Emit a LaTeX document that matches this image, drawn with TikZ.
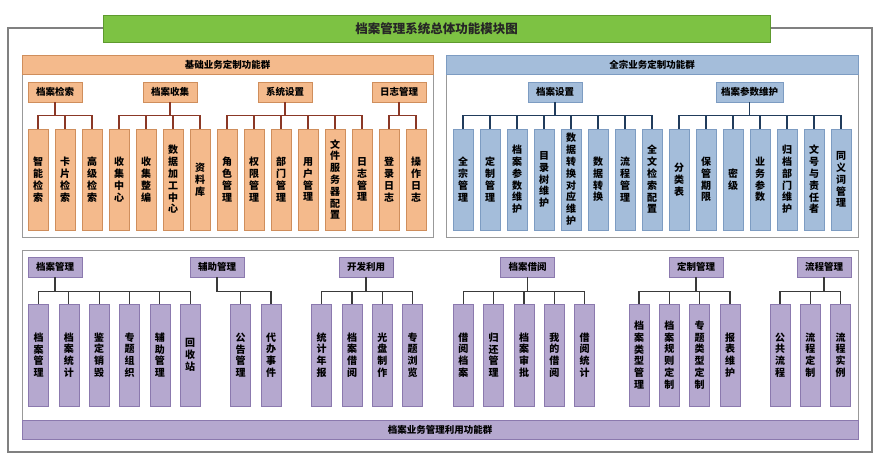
\documentclass[tikz,border=0pt]{standalone}
\usepackage{fontspec}
\newfontfamily\cjk{Noto Sans CJK SC}
\definecolor{bannerfill}{HTML}{7DC243}
\definecolor{bannerborder}{HTML}{5E9A2E}
\definecolor{orangefill}{HTML}{F4BA8C}
\definecolor{orangeborder}{HTML}{CF8E5C}
\definecolor{orangelink}{HTML}{8B3826}
\definecolor{bluefill}{HTML}{A4BDDA}
\definecolor{blueborder}{HTML}{7D9CC2}
\definecolor{bluelink}{HTML}{213C5C}
\definecolor{purplefill}{HTML}{B5A8CF}
\definecolor{purpleborder}{HTML}{8B79AE}
\definecolor{purplelink}{HTML}{3A3A3A}

\begin{document}
\begin{tikzpicture}[x=1pt,y=-1pt]
        \tikzset{box/.style={draw=#1border,fill=#1fill,line width=0.6pt,inner sep=0pt,align=center,
                font=\cjk\bfseries\fontsize{9.5}{11.5}\selectfont},
            cat/.style={box=#1,minimum width=54pt,minimum height=20pt},
            leaf/.style={box=#1,minimum width=20pt,minimum height=101pt,
                font=\cjk\bfseries\fontsize{10}{11.8}\selectfont},
            band/.style={box=#1,minimum height=19pt},
            link/.style={draw=#1link,line width=1.2pt},
            panel/.style={draw=black!40,line width=1pt},
            banner/.style={draw=bannerborder,fill=bannerfill,minimum width=667pt,minimum height=27pt,
                font=\cjk\bfseries\fontsize{12.5}{14}\selectfont,text=black!85}}
        \useasboundingbox (0,0) rectangle (888,463);
        \fill[white] (0,0) rectangle (888,463);
        \draw[draw=black!50,line width=1.2pt] (8,28) rectangle (872,452);
        \node[banner] (title) at (436.5,28.5) {档案管理系统总体功能模块图};

        \draw[panel] (22,55) rectangle (433,237);
        \node[band=orange,minimum width=411pt] (basehead) at (227.5,64.5) {基础业务定制功能群};
        \node[cat=orange] (ocat1) at (55,92) {档案检索};
        \node[cat=orange] (ocat2) at (170,92) {档案收集};
        \node[cat=orange] (ocat3) at (285,92) {系统设置};
        \node[cat=orange] (ocat4) at (399,92) {日志管理};
        \foreach \t [count=\i] in {智\\能\\检\\索, 卡\\片\\检\\索, 高\\级\\检\\索,
                收\\集\\中\\心, 收\\集\\整\\编, 数\\据\\加\\工\\中\\心, 资\\料\\库,
                角\\色\\管\\理, 权\\限\\管\\理, 部\\门\\管\\理, 用\\户\\管\\理,
                文\\件\\服\\务\\器\\配\\置, 日\\志\\管\\理, 登\\录\\日\\志, 操\\作\\日\\志}
            \node[leaf=orange] (oleaf\i) at (11+27*\i,179.5) {\t};
        \foreach \p/\a/\b in {1/1/3, 2/4/7, 3/8/13, 4/14/15}
            \foreach \i in {\a,...,\b}
                \draw[link=orange] (ocat\p.south) -- ++(0,13) -| (oleaf\i.north);

        \draw[panel] (446,55) rectangle (858,237);
        \node[band=blue,minimum width=412pt] (wholehead) at (652,64.5) {全宗业务定制功能群};
        \node[cat=blue] (bcat1) at (555,92) {档案设置};
        \node[cat=blue,minimum width=67pt] (bcat2) at (749.5,92) {档案参数维护};
        \foreach \t [count=\i] in {全\\宗\\管\\理, 定\\制\\管\\理, 档\\案\\参\\数\\维\\护,
                目\\录\\树\\维\\护, 数\\据\\转\\换\\对\\应\\维\\护, 数\\据\\转\\换,
                流\\程\\管\\理, 全\\文\\检\\索\\配\\置, 分\\类\\表, 保\\管\\期\\限, 密\\级,
                业\\务\\参\\数, 归\\档\\部\\门\\维\\护, 文\\号\\与\\责\\任\\者, 同\\义\\词\\管\\理}
            \node[leaf=blue] (bleaf\i) at (436+27*\i,179.5) {\t};
        \foreach \p/\a/\b in {1/1/8, 2/9/15}
            \foreach \i in {\a,...,\b}
                \draw[link=blue] (bcat\p.south) -- ++(0,13) -| (bleaf\i.north);

        \draw[panel] (22,250) rectangle (858,439);
        \node[band=purple,minimum width=836pt] (usefoot) at (440,429.5) {档案业务管理利用功能群};
        \foreach \x/\t [count=\i] in {55/档案管理, 217/辅助管理, 366/开发利用,
                527.5/档案借阅, 696/定制管理, 824/流程管理}
            \node[cat=purple] (pcat\i) at (\x,267) {\t};
        \foreach \x/\t [count=\i] in {38.5/档\\案\\管\\理, 68.8/档\\案\\统\\计, 99.2/鉴\\定\\销\\毁,
                129.5/专\\题\\组\\织, 159.8/辅\\助\\管\\理, 190.2/回\\收\\站,
                240.7/公\\告\\管\\理, 271/代\\办\\事\\件,
                321.7/统\\计\\年\\报, 352/档\\案\\借\\阅, 382.3/光\\盘\\制\\作, 412.7/专\\题\\浏\\览,
                463.3/借\\阅\\档\\案, 493.7/归\\还\\管\\理, 524/档\\案\\审\\批, 554.3/我\\的\\借\\阅,
                584.7/借\\阅\\统\\计,
                639/档\\案\\类\\型\\管\\理, 669.3/档\\案\\规\\则\\定\\制, 699.7/专\\题\\类\\型\\定\\制,
                730/报\\表\\维\\护,
                780/公\\共\\流\\程, 810.3/流\\程\\定\\制, 840.7/流\\程\\实\\例}
            \node[leaf=purple,minimum height=102pt] (pleaf\i) at (\x,355) {\t};
        \foreach \p/\a/\b in {1/1/6, 2/7/8, 3/9/12, 4/13/17, 5/18/21, 6/22/24}
            \foreach \i in {\a,...,\b}
                \draw[link=purple] (pcat\p.south) -- ++(0,14) -| (pleaf\i.north);
\end{tikzpicture}
\end{document}
